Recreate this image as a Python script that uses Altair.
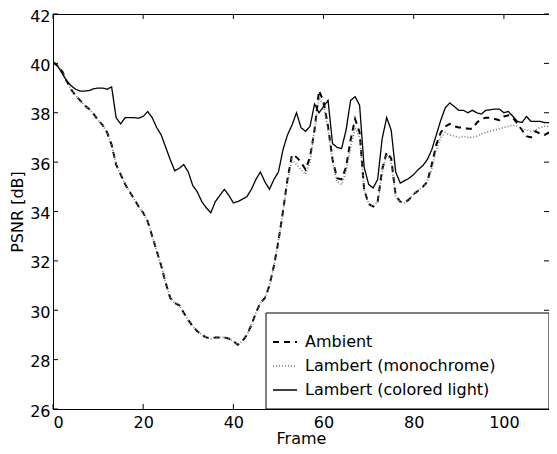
import altair as alt
import pandas as pd

frames = list(range(0, 111))

ambient = [40.05, 39.9, 39.7, 39.3, 38.95, 38.7, 38.5, 38.3, 38.15, 37.95,
           37.7, 37.5, 37.2, 36.7, 35.9, 35.5, 35.1, 34.8, 34.5, 34.2,
           33.95, 33.6, 33.0, 32.4, 31.8, 31.1, 30.5, 30.3, 30.2, 29.9,
           29.6, 29.35, 29.15, 29.0, 28.9, 28.85, 28.9, 28.9, 28.9, 28.85,
           28.75, 28.6, 28.75, 29.0, 29.4, 29.9, 30.3, 30.5, 31.0, 31.8,
           32.8, 34.0, 35.3, 36.3, 36.2, 36.0, 35.7, 36.2, 37.3, 38.9,
           38.45, 37.45, 36.1, 35.35, 35.3, 35.8, 36.9, 37.75, 37.2, 34.9,
           34.3, 34.2, 34.4, 35.7, 36.4, 36.15, 34.65, 34.4, 34.35, 34.5,
           34.7, 34.85, 35.0, 35.2, 35.9, 36.7, 37.2, 37.45, 37.55, 37.45,
           37.4, 37.4, 37.35, 37.35, 37.6, 37.75, 37.8, 37.8, 37.75, 37.7,
           37.85, 37.9, 37.8, 37.55, 37.3, 37.05, 37.0, 37.25, 37.15, 37.1,
           37.2]

mono = [40.05, 39.9, 39.7, 39.3, 38.95, 38.7, 38.5, 38.3, 38.15, 37.95,
        37.7, 37.5, 37.2, 36.7, 35.9, 35.5, 35.1, 34.8, 34.5, 34.2,
        33.95, 33.6, 33.0, 32.4, 31.8, 31.1, 30.5, 30.3, 30.2, 29.9,
        29.6, 29.35, 29.15, 29.0, 28.9, 28.85, 28.9, 28.9, 28.9, 28.85,
        28.75, 28.6, 28.75, 29.0, 29.4, 29.9, 30.3, 30.5, 31.0, 31.8,
        32.8, 34.0, 35.2, 36.1, 35.9, 35.7, 35.5, 36.0, 37.3, 38.6,
        38.3, 37.3, 36.0, 35.2, 35.1, 35.6, 36.6, 37.4, 37.0, 34.9,
        34.3, 34.2, 34.4, 35.6, 36.3, 36.0, 34.6, 34.4, 34.35, 34.5,
        34.7, 34.85, 35.0, 35.2, 35.7, 36.5, 37.0, 37.2, 37.1, 37.05,
        37.0, 37.05, 37.0, 37.0, 37.05, 37.15, 37.2, 37.25, 37.3, 37.35,
        37.4, 37.45, 37.5, 37.45, 37.35, 37.3, 37.25, 37.3, 37.4, 37.45,
        37.45]

colored = [40.05, 39.9, 39.6, 39.3, 39.1, 38.95, 38.88, 38.88, 38.9, 38.97,
           39.0, 39.0, 38.95, 39.05, 37.8, 37.55, 37.8, 37.8, 37.8, 37.78,
           37.85, 38.05, 37.8, 37.4, 37.1, 36.6, 36.1, 35.65, 35.75, 35.9,
           35.6, 35.05, 34.8, 34.4, 34.15, 33.95, 34.4, 34.65, 34.9, 34.65,
           34.35, 34.4, 34.5, 34.6, 34.9, 35.3, 35.6, 35.2, 34.9, 35.3,
           35.6, 36.5, 37.1, 37.5, 38.0, 37.4, 37.25, 37.45, 38.35, 38.0,
           38.25, 38.5, 36.75, 36.6, 36.55, 37.3, 38.5, 38.65, 38.3, 35.8,
           35.1, 34.95, 35.3, 36.95, 37.8, 37.3, 35.6, 35.15, 35.25, 35.35,
           35.5, 35.7, 35.85, 36.1, 36.5, 37.1, 37.7, 38.2, 38.4, 38.25,
           38.1, 38.1, 38.0, 38.1, 38.0, 37.95, 38.1, 38.12, 38.15, 38.15,
           38.0, 38.05, 37.85, 37.65, 37.6, 37.85, 37.65, 37.65, 37.65, 37.6,
           37.6]

series_names = ["Ambient", "Lambert (monochrome)", "Lambert (colored light)"]
x_ticks = [0, 20, 40, 60, 80, 100]
y_ticks = [26, 28, 30, 32, 34, 36, 38, 40, 42]

rows = []
for name, vals in zip(series_names, [ambient, mono, colored]):
    for f, v in zip(frames, vals):
        rows.append({"Frame": f, "PSNR": v, "Series": name})
df = pd.DataFrame(rows)

W, H = 496, 395
FONT = "DejaVu Sans"
FS = 16

xscale = alt.Scale(domain=[0, 110], nice=False, zero=False)
yscale = alt.Scale(domain=[26, 42], nice=False, zero=False)

legend_def = alt.Legend(title=None, orient="none", legendX=219, legendY=315,
                        symbolType="stroke", symbolSize=576,
                        symbolStrokeWidth=2, labelFontSize=FS,
                        labelFont=FONT, labelColor="black", labelLimit=400,
                        rowPadding=3, labelOffset=7, padding=0)

lines = alt.Chart(df).mark_line(clip=True).encode(
    x=alt.X("Frame:Q", scale=xscale,
            axis=alt.Axis(values=x_ticks, title="Frame", grid=False, tickSize=0,
                          labelPadding=5, titlePadding=0)),
    y=alt.Y("PSNR:Q", scale=yscale,
            axis=alt.Axis(values=y_ticks, title="PSNR [dB]", grid=False, tickSize=0,
                          labelPadding=3, titlePadding=4,
                          labelBaseline="alphabetic", labelOffset=7)),
    color=alt.Color("Series:N",
                    scale=alt.Scale(domain=series_names, range=["black", "#777777", "black"]),
                    legend=legend_def),
    strokeDash=alt.StrokeDash("Series:N",
                              scale=alt.Scale(domain=series_names,
                                              range=[[6, 5], [1, 2], [1, 0]]),
                              legend=legend_def),
    strokeWidth=alt.StrokeWidth("Series:N",
                                scale=alt.Scale(domain=series_names, range=[2, 1.3, 2]),
                                legend=None),
)

tick_x_df = pd.DataFrame({"t": x_ticks})
tick_y_df = pd.DataFrame({"t": y_ticks})

xt_bottom = alt.Chart(tick_x_df).mark_rule(color="black", strokeWidth=1).encode(
    x=alt.X("t:Q", scale=xscale), y=alt.value(H - 5), y2=alt.value(H))
xt_top = alt.Chart(tick_x_df).mark_rule(color="black", strokeWidth=1).encode(
    x=alt.X("t:Q", scale=xscale), y=alt.value(0), y2=alt.value(5))
yt_left = alt.Chart(tick_y_df).mark_rule(color="black", strokeWidth=1).encode(
    y=alt.Y("t:Q", scale=yscale), x=alt.value(0), x2=alt.value(5))
yt_right = alt.Chart(tick_y_df).mark_rule(color="black", strokeWidth=1).encode(
    y=alt.Y("t:Q", scale=yscale), x=alt.value(W - 5), x2=alt.value(W))

legend_box = alt.Chart(pd.DataFrame({"a": [0]})).mark_rect(
    fill="white", stroke="black", strokeWidth=1).encode(
    x=alt.value(213), x2=alt.value(W), y=alt.value(299), y2=alt.value(H))

chart = alt.layer(
    xt_bottom, xt_top, yt_left, yt_right, lines, legend_box
).properties(
    width=W, height=H,
    autosize=alt.AutoSizeParams(type="none"),
    padding={"left": 45, "top": 6, "right": 0, "bottom": 42},
).configure_view(
    stroke="black", strokeWidth=1
).configure_axis(
    labelFont=FONT, titleFont=FONT, labelFontSize=FS, titleFontSize=FS,
    labelColor="black", titleColor="black", titleFontWeight="normal",
    domainColor="black", domainWidth=1,
)

chart.save("out.html", embed_options={"renderer": "svg", "actions": False})
